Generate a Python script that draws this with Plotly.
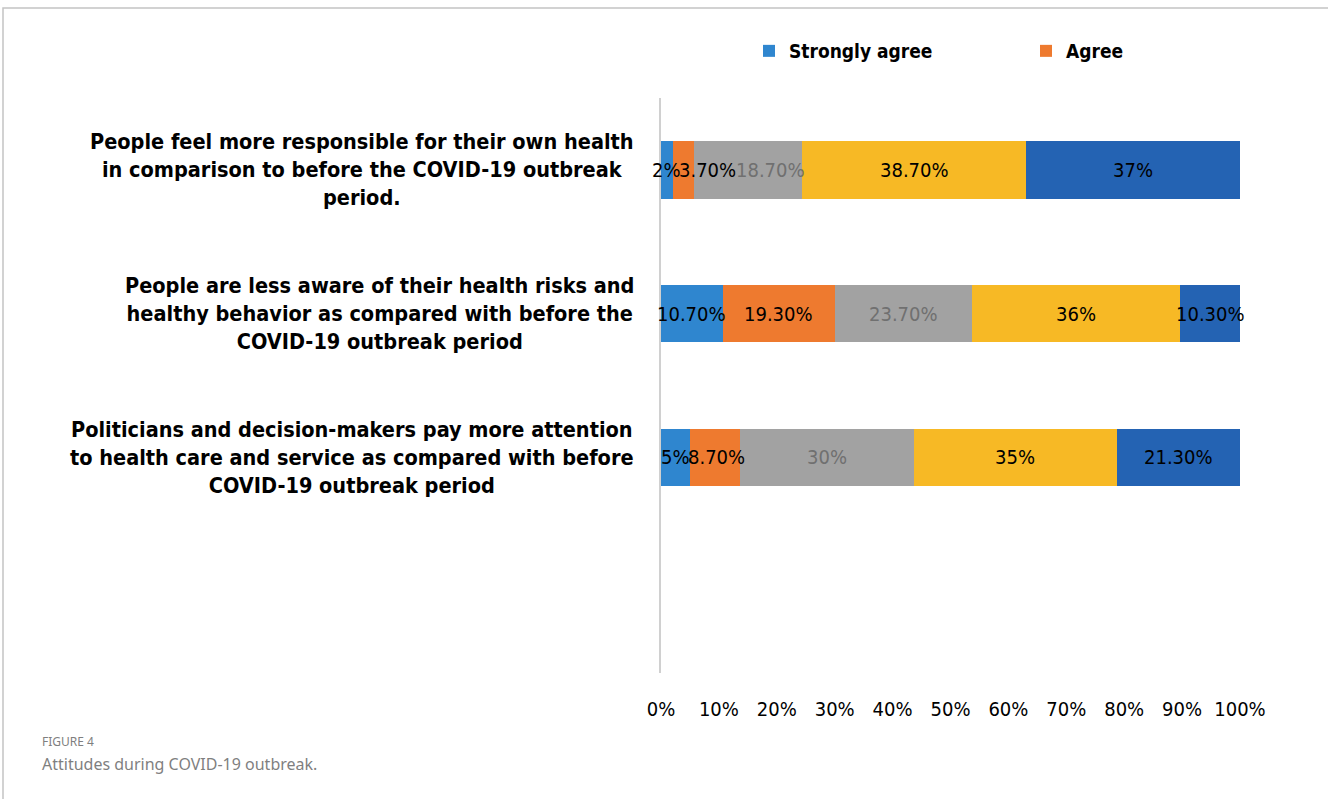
import plotly.graph_objects as go

# Survey statements (top to bottom)
statements = [
    "People feel more responsible for their own health<br>in comparison to before the COVID-19 outbreak<br>period.",
    "People are less aware of their health risks and<br>healthy behavior as compared with before the<br>COVID-19 outbreak period",
    "Politicians and decision-makers pay more attention<br>to health care and service as compared with before<br>COVID-19 outbreak period",
]

# Response shares (%) per statement
strongly_agree = [2, 10.7, 5]
agree = [3.7, 19.3, 8.7]
neutral = [18.7, 23.7, 30]
disagree = [38.7, 36, 35]
strongly_disagree = [37, 10.3, 21.3]

x_ticks = [0, 10, 20, 30, 40, 50, 60, 70, 80, 90, 100]
x_tick_text = ["0%", "10%", "20%", "30%", "40%", "50%", "60%", "70%", "80%", "90%", "100%"]

series = [
    ("Strongly agree", strongly_agree, "#2f86cf", "#000000", True),
    ("Agree", agree, "#ee7a2f", "#000000", True),
    ("Neutral", neutral, "#a2a2a2", "#707070", False),
    ("Disagree", disagree, "#f7b925", "#000000", False),
    ("Strongly disagree", strongly_disagree, "#2463b3", "#000000", False),
]

W, H = 1328, 799
L, R, T, B = 661, 1240, 98, 673
PX_PER_UNIT = (R - L) / 100.0
CHAR_PX = 11.3  # approximate width of one label character at 20px


def fmt(v):
    return f"{int(v)}%" if float(v).is_integer() else f"{v:.2f}%"


def px_x(p):
    return (p - L) / (R - L)


def px_y(p):
    return (B - p) / (B - T)


NARROW = "Liberation Sans Narrow, Arial Narrow, DejaVu Sans Condensed, sans-serif"

fig = go.Figure()
rows = list(range(len(statements)))
for name, vals, color, tcolor, show in series:
    fig.add_trace(go.Bar(
        y=rows, x=vals, name=name, orientation="h", width=0.4,
        marker=dict(color=color, line=dict(width=0)),
        showlegend=show, hoverinfo="skip",
    ))

# Segment value labels, drawn above every bar; narrow segments push
# their neighbours' labels to the right so the texts stay readable.
for i in rows:
    start = 0.0
    prev_right = -1e9
    for name, vals, color, tcolor, show in series:
        v = vals[i]
        label = fmt(v)
        mid = start + v / 2.0
        half = len(label) * CHAR_PX / 2.0
        centre_px = L + mid * PX_PER_UNIT
        shift = max(0.0, prev_right + 1 - (centre_px - half))
        prev_right = centre_px + shift + half
        fig.add_annotation(
            x=mid, y=i, xref="x", yref="y", text=label, showarrow=False,
            xshift=shift, xanchor="center", yanchor="middle",
            font=dict(family=NARROW, size=20, color=tcolor),
        )
        start += v

# Statement labels to the left of the bars
for i, s in enumerate(statements):
    fig.add_annotation(
        x=px_x(636), xref="paper", y=i, yref="y", xanchor="right", yanchor="middle",
        text=f"<b>{s}</b>", align="center", showarrow=False,
        font=dict(family=NARROW, size=21.5, color="#000000"),
    )

# Caption
fig.add_annotation(x=px_x(40), xref="paper", y=px_y(741), yref="paper",
                   xanchor="left", yanchor="middle", text="FIGURE 4", showarrow=False,
                   font=dict(family="Noto Sans", size=12, color="#7f7f7f"))
fig.add_annotation(x=px_x(40), xref="paper", y=px_y(764), yref="paper",
                   xanchor="left", yanchor="middle", text="Attitudes during COVID-19 outbreak.",
                   showarrow=False, font=dict(family="Noto Sans", size=16, color="#7f7f7f"))

# Outer frame
fig.add_shape(type="rect", xref="paper", yref="paper",
              x0=px_x(3), x1=px_x(1360), y0=px_y(830), y1=px_y(8),
              line=dict(color="#c4c4c4", width=1.5), fillcolor="rgba(0,0,0,0)", layer="below")

fig.update_layout(
    width=W, height=H, barmode="stack",
    margin=dict(l=L, r=W - R, t=T, b=H - B, autoexpand=False),
    plot_bgcolor="white", paper_bgcolor="white",
    legend=dict(orientation="h", x=749 / W, xanchor="left", y=1 - 51 / H, yanchor="middle",
                xref="container", yref="container", entrywidth=232, entrywidthmode="pixels",
                font=dict(family=NARROW, size=19, color="#000000", weight="bold"),
                itemclick=False, traceorder="normal"),
    xaxis=dict(range=[0, 100], tickvals=x_ticks, ticktext=x_tick_text, showgrid=False,
               zeroline=False, showline=False, ticks="", ticklabelstandoff=22,
               tickfont=dict(family=NARROW, size=20, color="#000000")),
    yaxis=dict(range=[3.5, -0.5], showticklabels=False, showgrid=False, zeroline=False,
               showline=True, linecolor="#d0d0d0", linewidth=2, ticks=""),
)

fig.write_html("out.html")
